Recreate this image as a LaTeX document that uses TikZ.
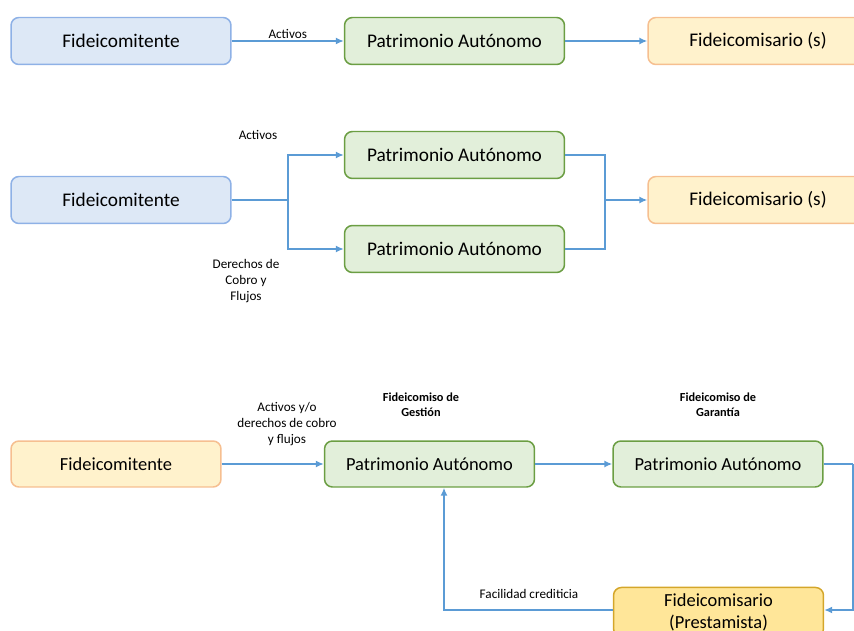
\documentclass[tikz,border=0pt]{standalone}
\usepackage{fontspec}
\setmainfont{Carlito}
\usepackage{tikz}
\usetikzlibrary{arrows.meta, positioning, calc}

\definecolor{azulfondo}{HTML}{DDE8F6}
\definecolor{azulborde}{HTML}{8EB1E6}
\definecolor{verdefondo}{HTML}{E2EFDA}
\definecolor{verdeborde}{HTML}{6B9E43}
\definecolor{crema}{HTML}{FFF2CC}
\definecolor{naranjaborde}{HTML}{F6BF90}
\definecolor{oro}{HTML}{FFE699}
\definecolor{oroborde}{HTML}{D4A62A}
\definecolor{flecha}{HTML}{5B9BD5}

\tikzset{
    caja/.style={rounded corners=4.5pt, line width=0.85pt, minimum width=4.4cm, minimum height=0.94cm, align=center, font=\fontsize{11}{13}\selectfont},
    cajaazul/.style={caja, fill=azulfondo, draw=azulborde},
    cajaverde/.style={caja, fill=verdefondo, draw=verdeborde},
    cajacrema/.style={caja, fill=crema, draw=naranjaborde},
    cajaoro/.style={caja, fill=oro, draw=oroborde},
    flujo/.style={draw=flecha, line width=0.85pt},
    rotulo/.style={font=\fontsize{7.5}{9}\selectfont, align=center},
}

\begin{document}
\begin{tikzpicture}[x=0.02cm, y=-0.02cm, >={Latex[length=4.5pt,width=4pt]}]
    \useasboundingbox (0,0) rectangle (854,631);

  % Esquema simple
    \node[cajaazul] (fa) at (121,41) {Fideicomitente};
    \node[cajaverde] (pa) at (454.5,41) {Patrimonio Autónomo};
    \node[cajacrema] (ba) at (758,41) {Fideicomisario (s)};

    \draw[flujo, ->] (fa) -- (pa) node[rotulo, midway, above=-2.5pt] {Activos};
    \draw[flujo, ->] (pa) -- (ba);

  % Dos patrimonios en paralelo
    \node[cajaazul] (fb) at (121,200) {Fideicomitente};
    \node[cajaverde] (pb1) at (454.5,155) {Patrimonio Autónomo};
    \node[cajaverde] (pb2) at (454.5,249) {Patrimonio Autónomo};
    \node[cajacrema] (bb) at (758,200) {Fideicomisario (s)};

    \coordinate (rama) at (288,200);
    \coordinate (junta) at (605,200);

    \draw[flujo] (fb) -- (rama);
    \draw[flujo, ->] (rama) |- (pb1);
    \draw[flujo, ->] (rama) |- (pb2);
    \draw[flujo] (pb1) -| (junta);
    \draw[flujo] (pb2) -| (junta);
    \draw[flujo, ->] (junta) -- (bb);

    \node[rotulo] (lbact) at (258,135) {Activos};
    \node[rotulo] (lbder) at (246,281) {Derechos de\\Cobro y\\Flujos};

  % Gestion y garantia
    \node[cajacrema, minimum width=4.2cm, minimum height=0.92cm, font=\fontsize{10.5}{12.5}\selectfont] (fc) at (116,464) {Fideicomitente};
    \node[cajaverde, minimum width=4.2cm, minimum height=0.92cm, font=\fontsize{10.5}{12.5}\selectfont] (pg) at (429.5,464) {Patrimonio Autónomo};
    \node[cajaverde, minimum width=4.2cm, minimum height=0.92cm, font=\fontsize{10.5}{12.5}\selectfont] (pt) at (718,464) {Patrimonio Autónomo};
    \node[cajaoro, minimum width=4.2cm, minimum height=0.96cm, font=\fontsize{10.5}{12.5}\selectfont] (bp) at (718.5,612) {Fideicomisario\\(Prestamista)};

    \coordinate (esq) at (853,464);

    \draw[flujo, ->] (fc) -- (pg);
    \draw[flujo, ->] (pg) -- (pt);
    \draw[flujo] (pt) -- (esq);
    \draw[flujo, ->] (esq) |- ($(bp.east)+(0,-2)$);
    \draw[flujo, ->] ($(bp.west)+(0,-2)$) -| ($(pg.south)+(14.5,0)$);

    \node[rotulo] (lbcob) at (287,424) {Activos y/o\\derechos de cobro\\y flujos};
    \node[rotulo, font=\bfseries\fontsize{7}{8.5}\selectfont] (lbges) at (421,405) {Fideicomiso de\\Gestión};
    \node[rotulo, font=\bfseries\fontsize{7}{8.5}\selectfont] (lbgar) at (718,405) {Fideicomiso de\\Garantía};
    \node[rotulo] (lbfac) at (529,594) {Facilidad crediticia};

\end{tikzpicture}
\end{document}
